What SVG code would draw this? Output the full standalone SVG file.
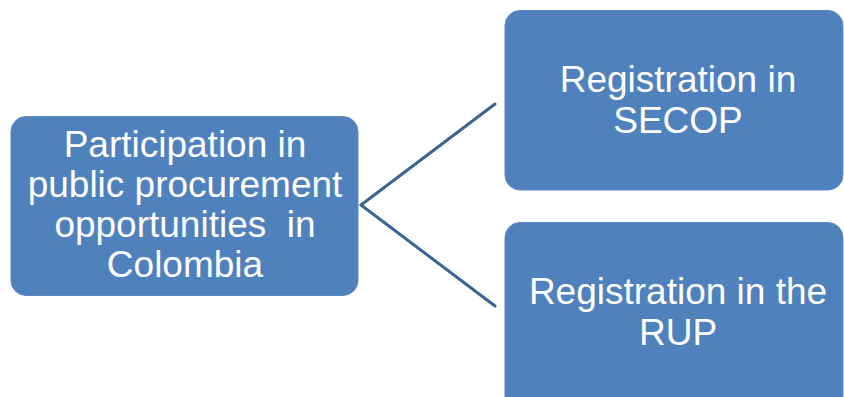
<svg xmlns="http://www.w3.org/2000/svg" width="844" height="397" viewBox="0 0 844 397">
<style>
.box{fill:#4f81bd;stroke:#5b8ac3;stroke-width:1}
.lbl{font-family:"Liberation Sans",Arial,sans-serif;font-size:37px;fill:#ffffff;text-anchor:middle;white-space:pre}
.conn{stroke:#3b6494;stroke-width:3;fill:none;stroke-linecap:round}
</style>
<rect width="844" height="397" fill="#ffffff"/>
<g id="connectors">
<line class="conn" x1="361" y1="205" x2="495" y2="104"/>
<line class="conn" x1="361" y1="205" x2="495" y2="306"/>
</g>
<g id="node-participation">
<rect class="box" x="11" y="116.5" width="347" height="179" rx="15"/>
<text class="lbl" x="185" y="157">Participation in</text>
<text class="lbl" x="185" y="197">public procurement</text>
<text class="lbl" x="185" y="237" xml:space="preserve">opportunities  in</text>
<text class="lbl" x="185" y="277">Colombia</text>
</g>
<g id="node-secop">
<rect class="box" x="505" y="10.5" width="338" height="179.5" rx="15"/>
<text class="lbl" x="678" y="92">Registration in</text>
<text class="lbl" x="678" y="133">SECOP</text>
</g>
<g id="node-rup">
<rect class="box" x="505" y="222.5" width="338" height="190" rx="15"/>
<text class="lbl" x="678" y="304">Registration in the</text>
<text class="lbl" x="678" y="345">RUP</text>
</g>
</svg>
